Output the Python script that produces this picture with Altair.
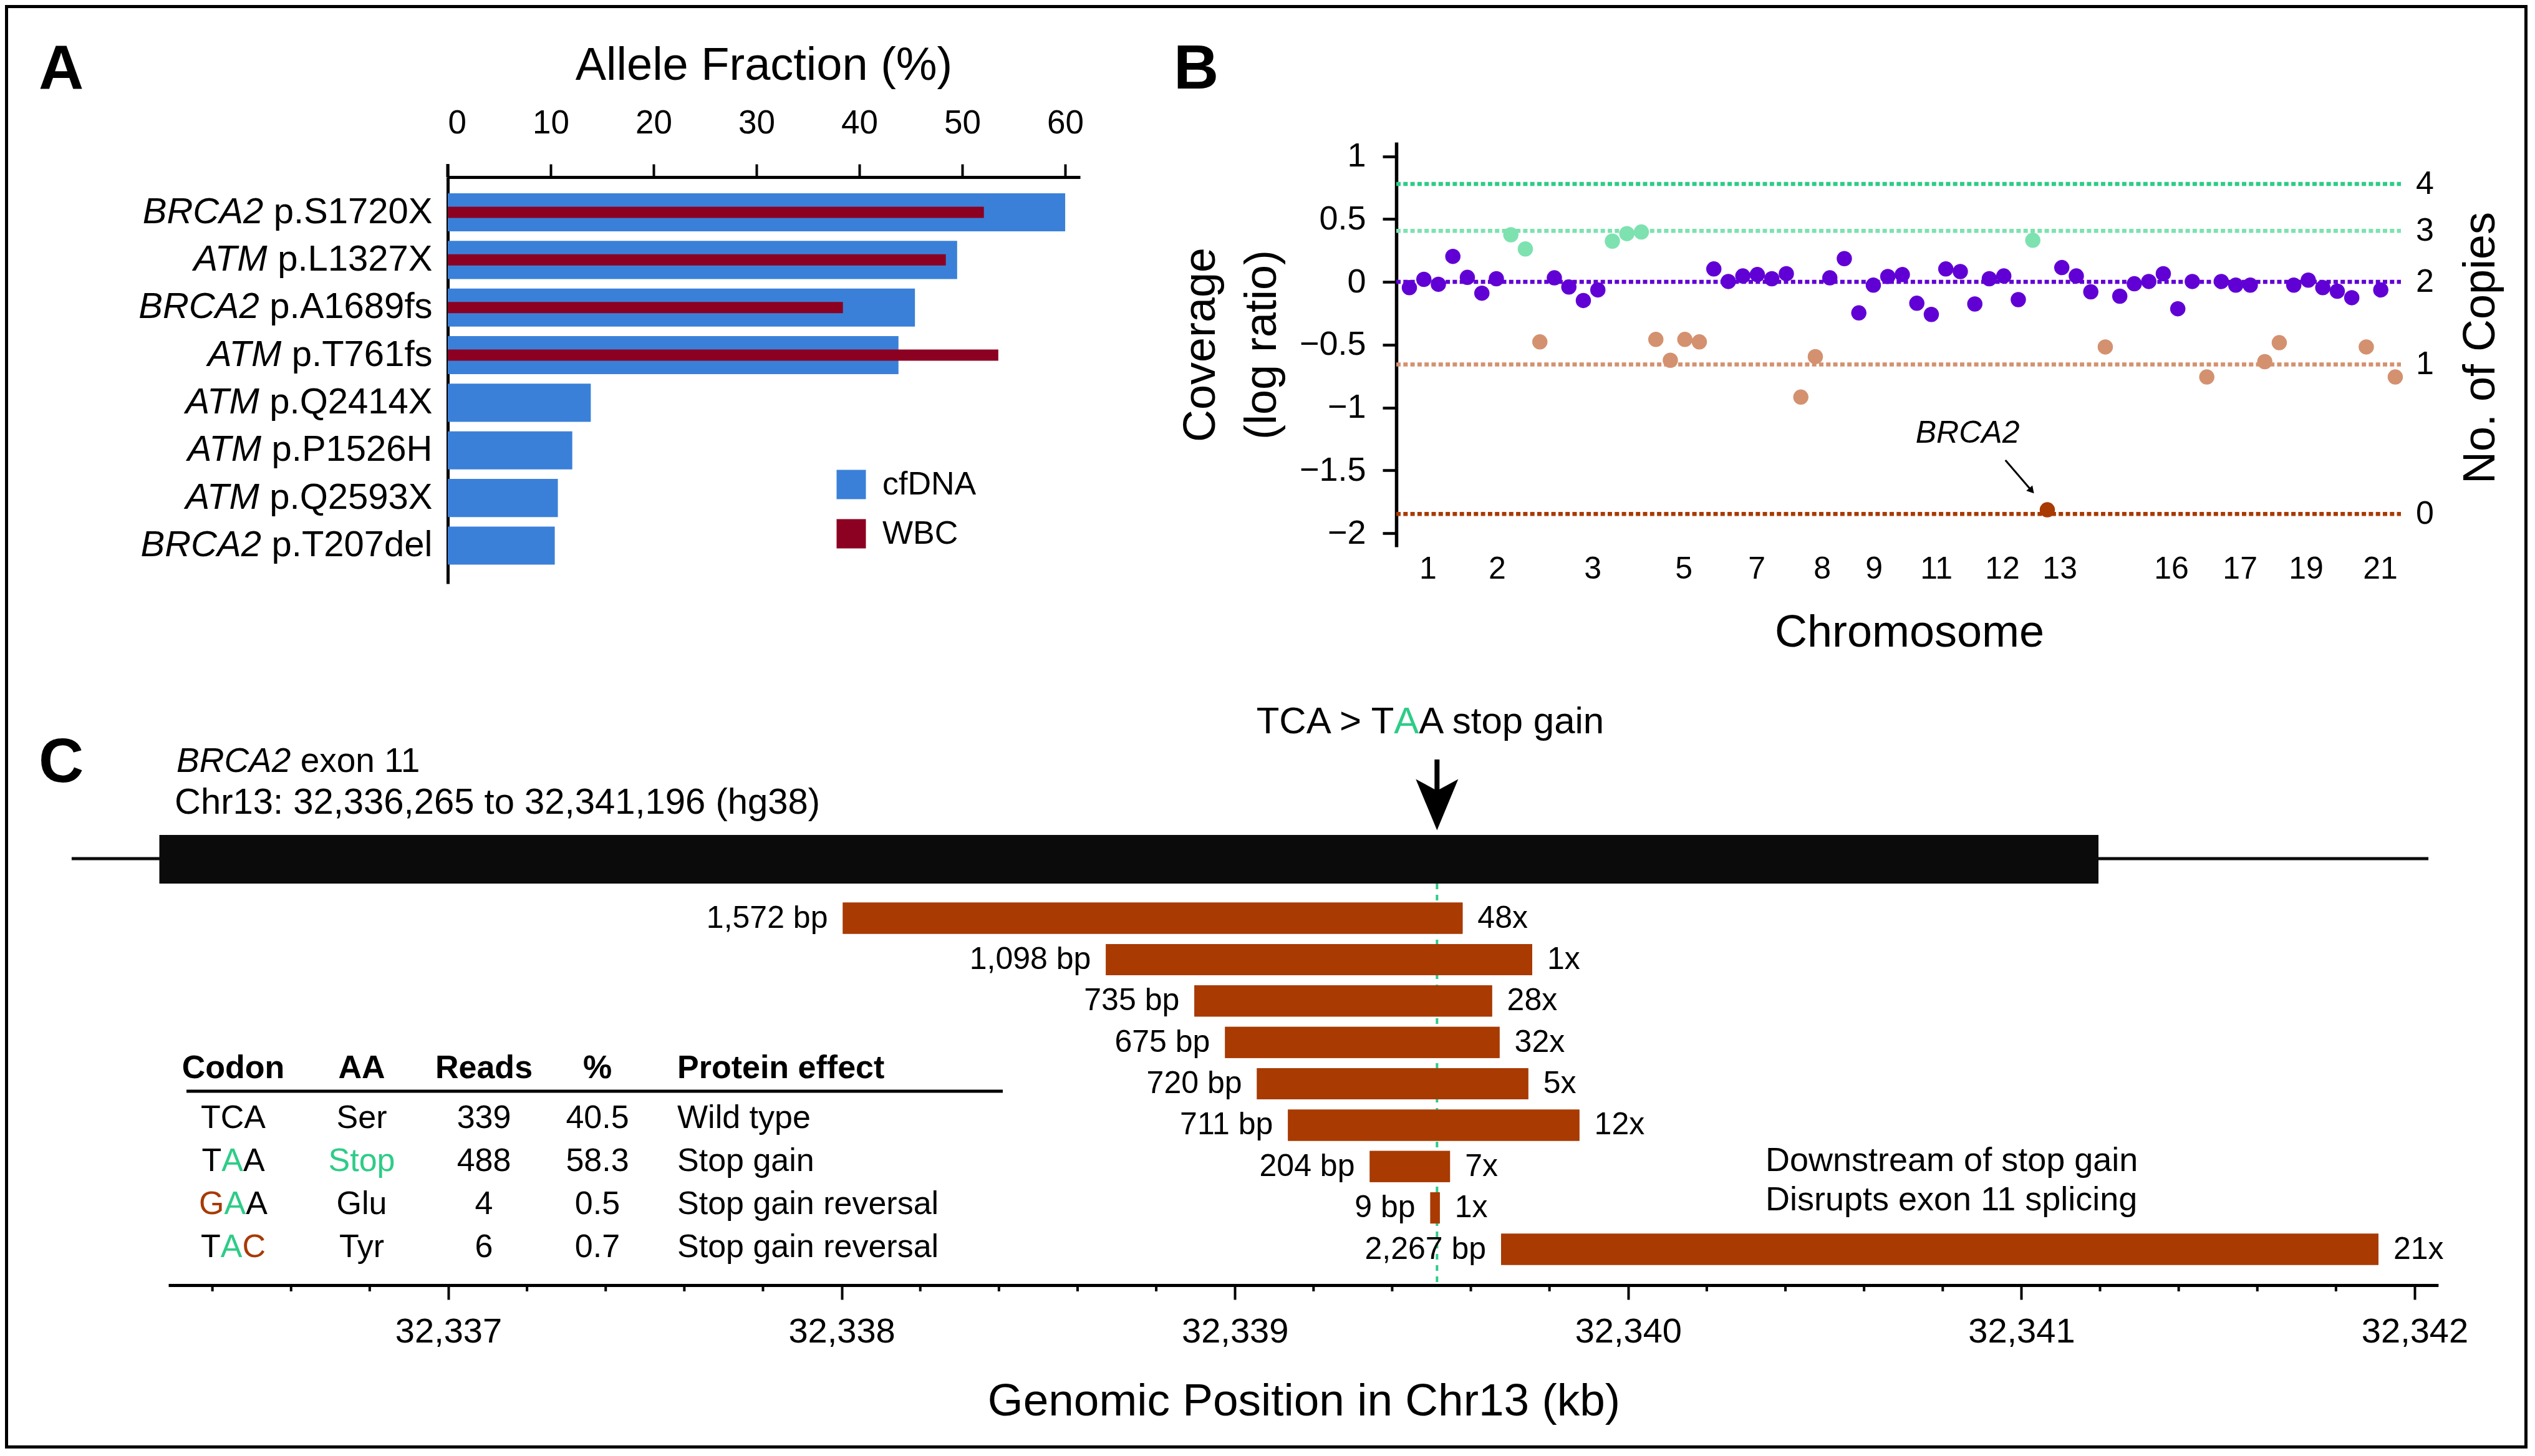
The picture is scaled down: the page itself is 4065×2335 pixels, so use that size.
import altair as alt
import pandas as pd

SANS = "Liberation Sans, Arial, sans-serif"

# ---------------- data: panel A ----------------
variant_genes = ["BRCA2", "ATM", "BRCA2", "ATM", "ATM", "ATM", "ATM", "BRCA2"]
variant_proteins = ["p.S1720X", "p.L1327X", "p.A1689fs", "p.T761fs",
                    "p.Q2414X", "p.P1526H", "p.Q2593X", "p.T207del"]
cfdna_af = [60.0, 49.5, 45.4, 43.8, 13.9, 12.1, 10.7, 10.4]
wbc_af = [52.1, 48.4, 38.4, 53.5, None, None, None, None]
series_names = ["cfDNA", "WBC"]

# ---------------- data: panel B ----------------
cov_log_ratio = [
    -0.046, 0.020, -0.019, 0.203, 0.036, -0.090, 0.025, 0.375, 0.262, -0.478,
    0.032, -0.041, -0.148, -0.064, 0.324, 0.384, 0.397, -0.458, -0.624, -0.458,
    -0.478, 0.103, 0.003, 0.047, 0.058, 0.025, 0.065, -0.917, -0.595, 0.032,
    0.185, -0.247, -0.026, 0.043, 0.058, -0.170, -0.259, 0.103, 0.082, -0.176,
    0.025, 0.047, -0.141, 0.331, -1.814, 0.114, 0.047, -0.079, -0.518, -0.114,
    -0.015, 0.003, 0.065, -0.214, 0.003, -0.757, 0.003, -0.026, -0.026, -0.635,
    -0.484, -0.026, 0.014, -0.046, -0.074, -0.126, -0.518, -0.064, -0.757]
cov_state = [
    "n", "n", "n", "n", "n", "n", "n", "g", "g", "l",
    "n", "n", "n", "n", "g", "g", "g", "l", "l", "l",
    "l", "n", "n", "n", "n", "n", "n", "l", "l", "n",
    "n", "n", "n", "n", "n", "n", "n", "n", "n", "n",
    "n", "n", "n", "g", "d", "n", "n", "n", "l", "n",
    "n", "n", "n", "n", "n", "l", "n", "n", "n", "l",
    "l", "n", "n", "n", "n", "n", "l", "n", "l"]
copy_number = ["4", "3", "2", "1", "0"]
copy_log_ratio = [0.779, 0.406, 0.0, -0.657, -1.847]
chrom_names = ["1", "2", "3", "5", "7", "8", "9", "11", "12", "13", "16", "17", "19", "21"]
chrom_bin = [2.29, 7.06, 13.65, 19.93, 24.96, 29.48, 33.05, 37.35, 41.91, 45.87,
             53.56, 58.30, 62.85, 67.97]
brca2_text_pos = [39.5, -1.28]
brca2_arrow = [42.11, -1.419, 43.92, -1.662]

# ---------------- data: panel C ----------------
read_bp = ["1,572 bp", "1,098 bp", "735 bp", "675 bp", "720 bp", "711 bp",
           "204 bp", "9 bp", "2,267 bp"]
read_depth = ["48x", "1x", "28x", "32x", "5x", "12x", "7x", "1x", "21x"]
read_start_kb = [32338.003, 32338.672, 32338.897, 32338.975, 32339.056,
                 32339.135, 32339.343, 32339.497, 32339.677]
read_end_kb = [32339.579, 32339.756, 32339.654, 32339.673, 32339.746,
               32339.876, 32339.547, 32339.521, 32341.908]
exon_start_kb = 32336.265
exon_end_kb = 32341.196
flank_start_kb = 32336.042
flank_end_kb = 32342.035
stop_pos_kb = 32339.514
axis_start_kb = 32336.288
axis_end_kb = 32342.06
major_ticks_kb = [32337, 32338, 32339, 32340, 32341, 32342]

table_header = ["Codon", "AA", "Reads", "%", "Protein effect"]
table_codon = ["TCA", "TAA", "GAA", "TAC"]
table_aa = ["Ser", "Stop", "Glu", "Tyr"]
table_reads = ["339", "488", "4", "6"]
table_pct = ["40.5", "58.3", "0.5", "0.7"]
table_effect = ["Wild type", "Stop gain", "Stop gain reversal", "Stop gain reversal"]
wild_codon = "TCA"
stop_codon = "TAA"
note_lines = ["Downstream of stop gain", "Disrupts exon 11 splicing"]

# ---------------- styles ----------------
BLUE = "#3A80D8"
WBC_RED = "#8C0022"
PURPLE = "#6100D5"
GREEN_L = "#7DE2B0"
GREEN = "#2ECC87"
SALMON = "#D4916F"
RUST = "#A83A02"
INK = "#0B0B0B"
STATE_COLOR = {"g": GREEN_L, "n": PURPLE, "l": SALMON, "d": RUST}
LEVEL_COLOR = {"4": GREEN, "3": GREEN_L, "2": PURPLE, "1": SALMON, "0": RUST}

ADV = {" ": 278, ".": 278, ",": 278, ":": 278, "(": 333, ")": 333, ">": 584, "%": 889,
       "A": 667, "B": 667, "C": 722, "D": 722, "E": 667, "F": 611, "G": 778, "H": 722,
       "L": 556, "M": 833, "N": 722, "P": 667, "Q": 778, "R": 722, "S": 667, "T": 611,
       "X": 667, "a": 556, "c": 500, "d": 556, "e": 556, "f": 278, "l": 222, "p": 556,
       "s": 500}


def text_w(s, size):
    return sum(ADV.get(ch, 556) for ch in s) * size / 1000.0


ONE = pd.DataFrame({"k": [0]})


def label(text, x, y, size, baseline="alphabetic", **kw):
    return alt.Chart(ONE).mark_text(text=text, fontSize=size, font=SANS, color="#000",
                                    baseline=baseline, **kw).encode(
        x=alt.value(x), y=alt.value(y))


W, H = 4045, 2315          # whole figure (plot area of the root layer)

# ================= PANEL A =================
A_X0, A_X1, A_Y0, A_Y1 = 710, 1724, 276, 928
dfA = pd.DataFrame({"gene": variant_genes, "protein": variant_proteins})
dfA["variant"] = dfA["gene"] + " " + dfA["protein"]
dfA["gene_px"] = [A_X0 - 25 - text_w(" " + p, 58) for p in variant_proteins]
variant_order = list(dfA["variant"])
dfCf = pd.DataFrame({"variant": variant_order, "series": series_names[0], "af": cfdna_af})
dfWb = pd.DataFrame({"variant": variant_order, "series": series_names[1], "af": wbc_af}).dropna()

yA = alt.Y("variant:N", title=None,
           scale=alt.Scale(domain=variant_order, range=[A_Y0, A_Y1],
                           paddingInner=0.2, paddingOuter=0.37, align=0.46),
           axis=alt.Axis(orient="left", offset=-A_X0, labelExpr="split(datum.label, ' ')[1]",
                         ticks=False, tickSize=0, labelPadding=25, labelFontSize=58,
                         labelFont=SANS, labelColor="#000", domainColor="#000",
                         domainWidth=5, labelLimit=0, grid=False))
xA = alt.X("af:Q", stack=None, title=None,
           scale=alt.Scale(domain=[0, 61.45], range=[A_X0, A_X1], nice=False, zero=True),
           axis=alt.Axis(orient="top", offset=-A_Y0, values=[0, 10, 20, 30, 40, 50, 60],
                         format="~g", tickSize=21, tickWidth=4, tickColor="#000",
                         domainWidth=5, domainColor="#000", labelFontSize=53,
                         labelFont=SANS, labelColor="#000", labelPadding=39, grid=False))
colA = alt.Color("series:N", scale=alt.Scale(domain=series_names, range=[BLUE, WBC_RED]),
                 legend=alt.Legend(orient="none", legendX=1331, legendY=743, title=None,
                                   symbolType="square", symbolSize=2209,
                                   symbolStrokeWidth=0, symbolOpacity=1,
                                   labelFontSize=52, labelFont=SANS, labelColor="#000",
                                   labelOffset=24, rowPadding=27, padding=0))
barsCf = alt.Chart(dfCf).mark_bar().encode(y=yA, x=xA, color=colA)
barsWb = alt.Chart(dfWb).mark_bar(size=18).encode(
    y=alt.Y("variant:N", title=None), x=alt.X("af:Q", stack=None, title=None), color=colA)
genesA = alt.Chart(dfA).mark_text(align="right", baseline="middle", fontStyle="italic",
                                  fontSize=58, font=SANS, color="#000").encode(
    x=alt.X("gene_px:Q", scale=None), y=alt.Y("variant:N", title=None), text="gene:N")
axis_ext = alt.Chart(ONE).mark_rule(color="#000", strokeWidth=5).encode(
    x=alt.value(A_X0), y=alt.value(255), y2=alt.value(A_Y0))

panelA = alt.layer(
    barsCf, barsWb, genesA, axis_ext,
    label("Allele Fraction (%)", 1217, 120, 74, align="center"),
    label("A", 54, 135, 100, fontWeight="bold", align="left"),
)

# ================= PANEL B =================
B_X0, B_X1, B_Y0, B_Y1 = 2231, 3842, 220, 869
dfB = pd.DataFrame({"idx": list(range(1, len(cov_log_ratio) + 1)),
                    "ratio": cov_log_ratio, "state": cov_state})
dfB["col"] = dfB["state"].map(STATE_COLOR)
dfLv = pd.DataFrame({"level": copy_number, "ratio": copy_log_ratio})
dfLv["col"] = dfLv["level"].map(LEVEL_COLOR)
dfChr = pd.DataFrame({"name": chrom_names, "idx": chrom_bin})
dfArrow = pd.DataFrame({"x1": [brca2_arrow[0]], "y1": [brca2_arrow[1]],
                        "x2": [brca2_arrow[2]], "y2": [brca2_arrow[3]]})
dfBt = pd.DataFrame({"idx": [brca2_text_pos[0]], "ratio": [brca2_text_pos[1]], "t": ["BRCA2"]})

xB = alt.X("idx:Q", title=None,
           scale=alt.Scale(domain=[0.097, 69.39], range=[B_X0, B_X1], nice=False, zero=False),
           axis=None)
yB = alt.Y("ratio:Q", title=None,
           scale=alt.Scale(domain=[-2.109, 1.112], range=[B_Y1, B_Y0], nice=False, zero=False),
           axis=alt.Axis(orient="left", offset=-B_X0, values=[-2, -1.5, -1, -0.5, 0, 0.5, 1],
                         format="~g", tickSize=22, tickWidth=4.5, tickColor="#000",
                         domainWidth=5.5, domainColor="#000", labelFontSize=54,
                         labelFont=SANS, labelColor="#000", labelPadding=27, grid=False))

dotsB0 = alt.Chart(dfB).mark_circle(size=0, opacity=0).encode(x=xB, y=yB)
linesB = alt.Chart(dfLv).mark_rule(strokeDash=[7, 4.3], strokeWidth=6.5).encode(
    y=alt.Y("ratio:Q", title=None), x=alt.value(B_X0), x2=alt.value(B_X1),
    color=alt.Color("col:N", scale=None))
dotsB = alt.Chart(dfB).mark_circle(size=600, opacity=1).encode(
    x=alt.X("idx:Q", title=None), y=alt.Y("ratio:Q", title=None),
    color=alt.Color("col:N", scale=None))
lvlB = alt.Chart(dfLv).mark_text(align="left", baseline="middle", fontSize=52, font=SANS,
                                 color="#000").encode(
    y=alt.Y("ratio:Q", title=None), x=alt.value(3866), text="level:N")
chrB = alt.Chart(dfChr).mark_text(align="center", baseline="alphabetic", fontSize=50,
                                  font=SANS, color="#000").encode(
    x=alt.X("idx:Q", title=None), y=alt.value(920), text="name:N")
arrowB = alt.Chart(dfArrow).mark_rule(color="#000", strokeWidth=3).encode(
    x=alt.X("x1:Q", title=None), y=alt.Y("y1:Q", title=None), x2="x2:Q", y2="y2:Q")
headB = alt.Chart(dfArrow).mark_point(shape="triangle-up", filled=True, size=170, angle=139,
                                      color="#000", opacity=1).encode(
    x=alt.X("x2:Q", title=None), y=alt.Y("y2:Q", title=None))
brcaB = alt.Chart(dfBt).mark_text(align="center", baseline="alphabetic", fontSize=50,
                                  fontStyle="italic", font=SANS, color="#000").encode(
    x=alt.X("idx:Q", title=None), y=alt.Y("ratio:Q", title=None), text="t:N")

panelB = alt.layer(
    dotsB0, linesB, dotsB, lvlB, chrB, arrowB, headB, brcaB,
    label("Coverage", 1940, 545, 72, angle=270, align="center"),
    label("(log ratio)", 2038, 545, 72, angle=270, align="center"),
    label("No. of Copies", 3992, 550, 72, angle=270, align="center"),
    label("Chromosome", 3054, 1029, 72, align="center"),
    label("B", 1874, 134, 100, fontWeight="bold", align="left"),
)

# ================= PANEL C =================
C_AXIS_Y = 2053
dfR = pd.DataFrame({"row": list(range(1, len(read_bp) + 1)), "start": read_start_kb,
                    "end": read_end_kb, "bp": read_bp, "depth": read_depth})
kb_px = 630.6
c_x0 = 711 + (axis_start_kb - major_ticks_kb[0]) * kb_px
c_x1 = 711 + (axis_end_kb - major_ticks_kb[0]) * kb_px
xC = alt.X("start:Q", title=None,
           scale=alt.Scale(domain=[axis_start_kb, axis_end_kb], range=[c_x0, c_x1],
                           nice=False, zero=False),
           axis=alt.Axis(orient="bottom", offset=C_AXIS_Y - H, values=major_ticks_kb,
                         format=",", tickSize=23, tickWidth=4, tickColor="#000",
                         domainWidth=5, domainColor="#000", labelFontSize=56,
                         labelFont=SANS, labelColor="#000", labelPadding=24, grid=False))
yC = alt.Y("row:Q", title=None,
           scale=alt.Scale(domain=[1, len(read_bp)], range=[1459.5, 2000.5], nice=False,
                           zero=False), axis=None)

barsC = alt.Chart(dfR).mark_bar(color=RUST, size=50, orient="horizontal").encode(
    x=xC, x2="end:Q", y=yC)
bpC = alt.Chart(dfR).mark_text(align="right", baseline="middle", dx=-24, fontSize=50,
                               font=SANS, color="#000").encode(
    x=alt.X("start:Q", title=None), y=alt.Y("row:Q", title=None), text="bp:N")
depC = alt.Chart(dfR).mark_text(align="left", baseline="middle", dx=24, fontSize=50,
                                font=SANS, color="#000").encode(
    x=alt.X("end:Q", title=None), y=alt.Y("row:Q", title=None), text="depth:N")

dfEx = pd.DataFrame({"s": [exon_start_kb], "e": [exon_end_kb],
                     "fs": [flank_start_kb], "fe": [flank_end_kb], "p": [stop_pos_kb]})
flankC = alt.Chart(dfEx).mark_rule(color=INK, strokeWidth=5).encode(
    x=alt.X("fs:Q", title=None), x2="fe:Q", y=alt.value(1369))
exonC = alt.Chart(dfEx).mark_rect(color=INK).encode(
    x=alt.X("s:Q", title=None), x2="e:Q", y=alt.value(1331), y2=alt.value(1409))
stopC = alt.Chart(dfEx).mark_rule(color=GREEN, strokeWidth=4, strokeDash=[9, 9]).encode(
    x=alt.X("p:Q", title=None), y=alt.value(1409), y2=alt.value(C_AXIS_Y))
shaftC = alt.Chart(dfEx).mark_rule(color="#000", strokeWidth=8).encode(
    x=alt.X("p:Q", title=None), y=alt.value(1210), y2=alt.value(1265))
headC = alt.Chart(dfEx).mark_point(shape="M0,1L-0.83,-1L0,-0.55L0.83,-1Z", filled=True,
                                   size=6724, color="#000", opacity=1, strokeWidth=0).encode(
    x=alt.X("p:Q", title=None), y=alt.value(1282.5))

A_W60 = text_w("A", 60)
stop_lab = [
    alt.Chart(dfEx).mark_text(text="TCA > T", align="right", baseline="alphabetic",
                              fontSize=60, font=SANS, color="#000", dx=-49 - A_W60 / 2),
    alt.Chart(dfEx).mark_text(text="A", align="center", baseline="alphabetic",
                              fontSize=60, font=SANS, color=GREEN, dx=-49),
    alt.Chart(dfEx).mark_text(text="A stop gain", align="left", baseline="alphabetic",
                              fontSize=60, font=SANS, color="#000", dx=-49 + A_W60 / 2),
]
stop_lab = [c.encode(x=alt.X("p:Q", title=None), y=alt.value(1168)) for c in stop_lab]

dfMinor = pd.DataFrame({"t": [round(32336 + i * 0.2, 1) for i in range(2, 31) if i % 5 != 0]})
minorC = alt.Chart(dfMinor).mark_rule(color="#000", strokeWidth=4).encode(
    x=alt.X("t:Q", title=None), y=alt.value(C_AXIS_Y), y2=alt.value(C_AXIS_Y + 10))

# table
col_center = {"Codon": 366, "AA": 572, "Reads": 768, "%": 950}
effect_left = 1078
head_y = 1721
row_y = [1801, 1870, 1939, 2008]
dfHead = pd.DataFrame({"t": table_header[:4], "px": [col_center[h] for h in table_header[:4]],
                       "py": [head_y] * 4})
headT = alt.Chart(dfHead).mark_text(align="center", baseline="alphabetic", fontSize=52,
                                    fontWeight="bold", font=SANS, color="#000").encode(
    x=alt.X("px:Q", scale=None), y=alt.Y("py:Q", scale=None), text="t:N")
headT2 = label(table_header[4], effect_left, head_y, 52, fontWeight="bold", align="left")
ruleT = alt.Chart(ONE).mark_rule(color="#000", strokeWidth=5).encode(
    x=alt.value(291), x2=alt.value(1600), y=alt.value(1742))

cells = []
for r in range(4):
    for key, vals in (("AA", table_aa), ("Reads", table_reads), ("%", table_pct)):
        v = vals[r]
        col = GREEN if (key == "AA" and v == "Stop") else "#000"
        cells.append({"t": v, "px": col_center[key], "py": row_y[r], "col": col})
dfCells = pd.DataFrame(cells)
cellT = alt.Chart(dfCells).mark_text(align="center", baseline="alphabetic", fontSize=52,
                                     font=SANS).encode(
    x=alt.X("px:Q", scale=None), y=alt.Y("py:Q", scale=None), text="t:N",
    color=alt.Color("col:N", scale=None))
dfEff = pd.DataFrame({"t": table_effect, "px": [effect_left] * 4, "py": row_y})
effT = alt.Chart(dfEff).mark_text(align="left", baseline="alphabetic", fontSize=52,
                                  font=SANS, color="#000").encode(
    x=alt.X("px:Q", scale=None), y=alt.Y("py:Q", scale=None), text="t:N")

letters = []
for r, cod in enumerate(table_codon):
    w = text_w(cod, 52)
    left = col_center["Codon"] - w / 2
    for j, ch in enumerate(cod):
        if cod == wild_codon:
            col = "#000"
        elif ch != stop_codon[j]:
            col = RUST
        elif ch != wild_codon[j]:
            col = GREEN
        else:
            col = "#000"
        letters.append({"t": ch, "px": left, "py": row_y[r], "col": col})
        left += text_w(ch, 52)
dfLet = pd.DataFrame(letters)
letT = alt.Chart(dfLet).mark_text(align="left", baseline="alphabetic", fontSize=52,
                                  font=SANS).encode(
    x=alt.X("px:Q", scale=None), y=alt.Y("py:Q", scale=None), text="t:N",
    color=alt.Color("col:N", scale=None))

frame = alt.Chart(ONE).mark_rect(fillOpacity=0, stroke="#000", strokeWidth=5).encode(
    x=alt.value(2.5), x2=alt.value(W - 2.5), y=alt.value(2.5), y2=alt.value(H - 2.5))

panelC = alt.layer(
    barsC, flankC, exonC, stopC, barsC, bpC, depC, minorC, shaftC, headC, *stop_lab,
    headT, headT2, ruleT, cellT, effT, letT, frame,
    label("BRCA2", 275, 1230, 55, fontStyle="italic", align="left"),
    label("exon 11", 275 + text_w("BRCA2 ", 55), 1230, 55, align="left"),
    label("Chr13: 32,336,265 to 32,341,196 (hg38)", 272, 1297, 58, align="left"),
    label(note_lines[0], 2823, 1870, 54, align="left"),
    label(note_lines[1], 2823, 1933, 54, align="left"),
    label("Genomic Position in Chr13 (kb)", 2083, 2262, 73, align="center"),
    label("C", 54, 1246, 100, fontWeight="bold", align="left"),
)

chart = alt.layer(panelA, panelB, panelC).resolve_scale(
    x="independent", y="independent", color="independent"
).resolve_axis(x="independent", y="independent").properties(
    width=W, height=H, padding=0, background="white"
).configure_view(stroke=None).configure(font=SANS)

chart.save("out.html", embed_options={"renderer": "svg", "actions": False})
